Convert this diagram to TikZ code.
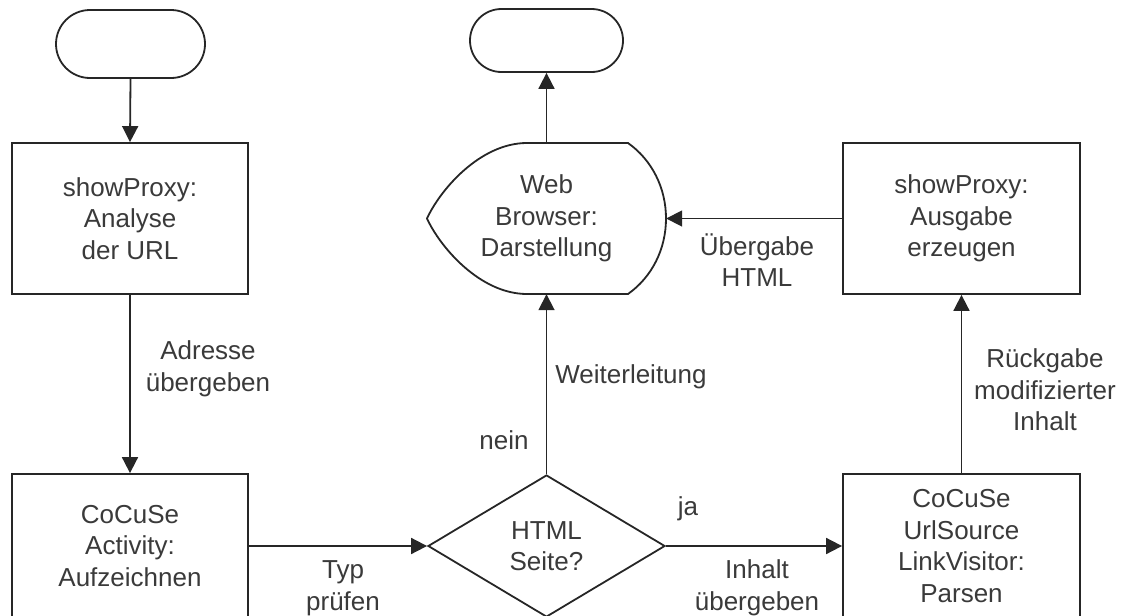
\documentclass[tikz,border=0pt]{standalone}
\usepackage{fontspec}
\setmainfont{Liberation Sans}
\usetikzlibrary{shapes.geometric,arrows.meta}
\definecolor{ln}{HTML}{262626}
\definecolor{tx}{HTML}{3A3A3A}
\tikzset{
  base/.style={font=\fontsize{26}{31.5}\selectfont, text=tx, align=center},
  procbox/.style={base, draw=ln, line width=1.8pt, rectangle, minimum width=236pt, minimum height=151pt, inner sep=0pt},
  termbox/.style={draw=ln, line width=1.8pt, rectangle, inner sep=0pt},
  conn/.style={draw=ln, line width=1.8pt, -{Triangle[length=16pt,width=16pt]}},
  lbl/.style={base, inner sep=0pt},
}
\begin{document}
\begin{tikzpicture}[x=1pt,y=-1pt]
\useasboundingbox (0,0) rectangle (1125,616);
\clip (0,0) rectangle (1125,616);
% terminators
\node[termbox, minimum width=149pt, minimum height=68pt, rounded corners=34pt] (t1) at (130.5,44) {};
\node[termbox, minimum width=153pt, minimum height=63pt, rounded corners=31.5pt] (t2) at (546.5,40.5) {};
% top row
\node[procbox] (b1) at (130,218.5) {showProxy:\\Analyse\\der URL};
\node[base, minimum width=239pt, minimum height=151pt, inner sep=0pt] (wb) at (546.5,218.5) {Web\\Browser:\\Darstellung};
\draw[ln, line width=1.8pt] (527,143) -- (628,143)
  .. controls (652,160) and (666,188) .. (666,218.5)
  .. controls (666,249) and (652,277) .. (628,294)
  -- (527,294)
  .. controls (480,294) and (440,247) .. (427,218.5)
  .. controls (440,190) and (480,143) .. (527,143) -- cycle;
\node[procbox, minimum width=237pt] (b3) at (961.5,218.5) {showProxy:\\Ausgabe\\erzeugen};
% bottom row
\node[procbox, minimum height=144pt] (b4) at (130,546) {CoCuSe\\Activity:\\Aufzeichnen};
\node[base, diamond, draw=ln, line width=1.8pt, inner sep=0pt, aspect=1.65, minimum width=237pt, minimum height=142pt] (d) at (546.5,546) {HTML\\Seite?};
\node[procbox, minimum width=237pt, minimum height=144pt] (b5) at (961.5,546) {CoCuSe\\UrlSource\\LinkVisitor:\\Parsen};
% connectors
\draw[conn] (t1.south) -- (b1.north);
\draw[conn] (b1.south) -- (b4.north);
\draw[conn] (b4.east) -- (d.west);
\draw[conn] (d.east) -- (b5.west);
\draw[conn] (d.north) -- (wb.south);
\draw[conn] (wb.north) -- (t2.south);
\draw[conn] (b3.west) -- (wb.east);
\draw[conn] (b5.north) -- (b3.south);
% labels
\node[lbl] (l1) at (208,369) {Adresse\\übergeben};
\node[lbl] (l2) at (631,377) {Weiterleitung};
\node[lbl] (l3) at (504,440) {nein};
\node[lbl] (l4) at (757,260) {Übergabe\\HTML};
\node[lbl] (l5) at (1045,390) {Rückgabe\\modifizierter\\Inhalt};
\node[lbl] (l6) at (343,588) {Typ\\prüfen};
\node[lbl] (l7) at (688,509) {ja};
\node[lbl] (l8) at (757,588) {Inhalt\\übergeben};
\end{tikzpicture}
\end{document}
